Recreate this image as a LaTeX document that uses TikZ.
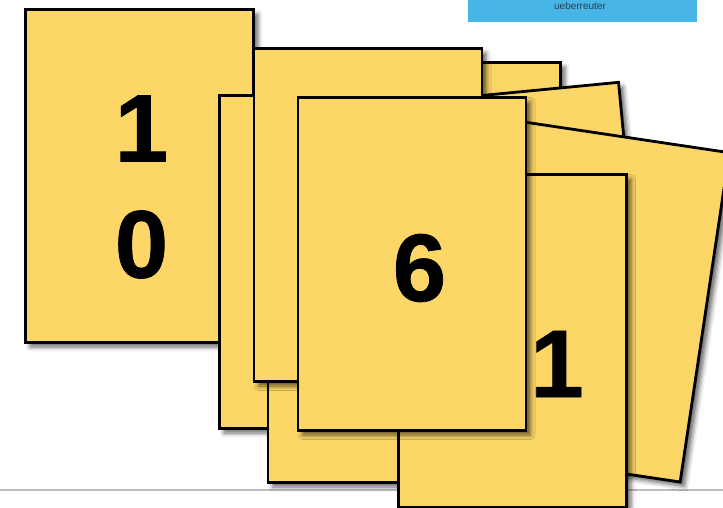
\documentclass[tikz,border=0pt]{standalone}
\usepackage{fontspec}
\setmainfont{Liberation Sans}
\newfontfamily\digitfont[BoldFeatures={FakeBold=0.8}]{Liberation Sans}
\usetikzlibrary{shadows.blur}
\definecolor{cardyellow}{HTML}{FCD667}
\definecolor{barblue}{HTML}{47B5E6}
\definecolor{logotext}{HTML}{2C3E50}

\begin{document}
\begin{tikzpicture}[x=1pt, y=-1pt,
    card/.style={
        rectangle, draw, line width=2.8pt, fill=cardyellow,
        minimum width=228pt, minimum height=333pt,
        inner sep=0pt, outer sep=0pt,
        blur shadow={shadow xshift=4.5pt, shadow yshift=-4.5pt,
            shadow blur radius=4.5pt, shadow opacity=60}
    },
    digit/.style={
        font=\digitfont\fontsize{96}{116}\selectfont\bfseries,
        align=center, inner sep=0pt
    },
    bar/.style={
        rectangle, fill=barblue, inner sep=0pt,
        minimum width=229pt, minimum height=22pt
    },
]
\clip (0,0) rectangle (723,508);

% Logo bar
\node[bar] (logo) at (582.5,11) {};
\node[font=\fontsize{10}{10}\selectfont, text=logotext] (logotxt) at (580,6) {ueberreuter};

% Base line
\draw[black!25, line width=1.5pt] (0,490) -- (723,490);

% ============ Cards (back to front) ============
\node[card] (ten) at (139.5,176) {};
\node[card] (back1) at (333.5,262) {};
\node[card] (back2) at (446.5,229) {};
\node[card] (back3) at (382,316) {};
\node[card, rotate=5.5] (tiltl) at (521,259) {};
\node[card] (mid) at (368,215) {};
\node[card, rotate=-8.5] (tiltr) at (592,300.5) {};
\node[card] (one) at (512.5,341) {};
\node[card] (six) at (412,264) {};

% ============ Numbers ============
\node[digit] (num10) at (141.5,187) {1\\0};
\node[digit] (num6) at (419.5,268) {6};
\node[digit] (num1) at (557,364) {1};

\end{tikzpicture}
\end{document}
